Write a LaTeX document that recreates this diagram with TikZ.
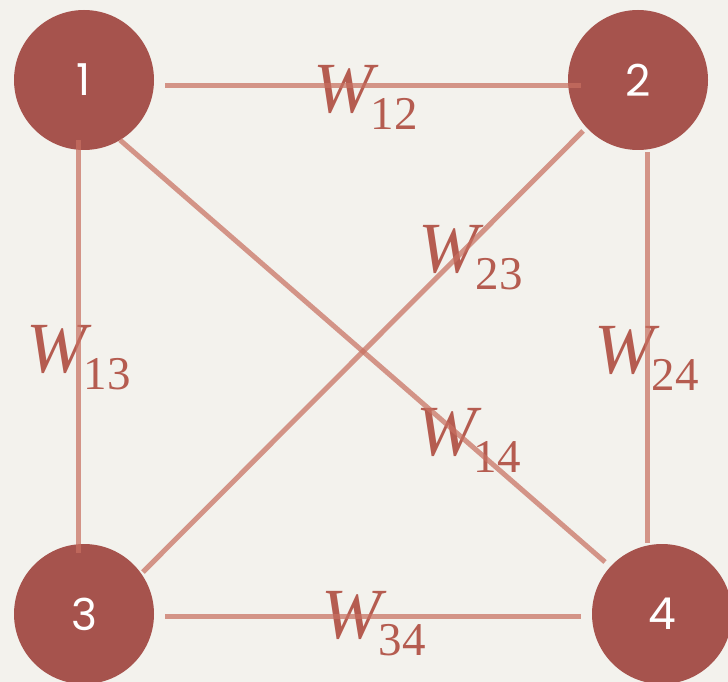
\documentclass[tikz,border=0pt]{standalone}
\usepackage{fontspec}
\setmainfont{Liberation Serif}
\newfontfamily\numfont{Poppins}
\definecolor{paper}{RGB}{243,242,237}
\definecolor{vtx}{RGB}{166,83,77}
\definecolor{edgec}{RGB}{200,112,97}
\definecolor{wcol}{RGB}{181,92,80}
\tikzset{
  vertex/.style={circle, fill=vtx, minimum size=140pt, inner sep=0pt, text=white, font=\numfont\fontsize{44}{44}\selectfont},
  edge/.style={draw=edgec, line width=5pt, opacity=0.72},
  wlab/.style={anchor=base west, inner sep=0pt, text=wcol}
}
\newcommand{\wl}[1]{\fontsize{72}{72}\selectfont\textit{W}\kern-8pt\raisebox{-17pt}{\fontsize{47}{47}\selectfont #1}}
\begin{document}
\begin{tikzpicture}[x=1pt,y=-1pt]
\fill[paper] (0,0) rectangle (728,682);
\useasboundingbox (0,0) rectangle (728,682);
\node[vertex] (n1) at (84,80) {1};
\node[vertex] (n2) at (638,80) {2};
\node[vertex] (n3) at (84,614) {3};
\node[vertex] (n4) at (662,614) {4};
\node[wlab] (w12) at (313,113) {\wl{12}};
\node[wlab] (w23) at (418,272) {\wl{23}};
\node[wlab] (w13) at (26,372) {\wl{13}};
\node[wlab] (w24) at (594,373) {\wl{24}};
\node[wlab] (w14) at (416,455) {\wl{14}};
\node[wlab] (w34) at (321,638) {\wl{34}};
\draw[edge] ([shift={(11pt,-6pt)}]n1.east) -- ([shift={(13pt,-6pt)}]n2.west);
\draw[edge] ([shift={(-6pt,10pt)}]n1.south) -- ([shift={(-6pt,-9pt)}]n3.north);
\draw[edge] ([shift={(36pt,-60pt)}]n1.center) -- ([shift={(-57pt,52pt)}]n4.center);
\draw[edge] ([shift={(-55pt,-51pt)}]n2.center) -- ([shift={(59pt,42pt)}]n3.center);
\draw[edge] ([shift={(9pt,-72pt)}]n2.center) -- ([shift={(-15pt,71pt)}]n4.center);
\draw[edge] ([shift={(81pt,-2pt)}]n3.center) -- ([shift={(-81pt,-2pt)}]n4.center);
\end{tikzpicture}
\end{document}
